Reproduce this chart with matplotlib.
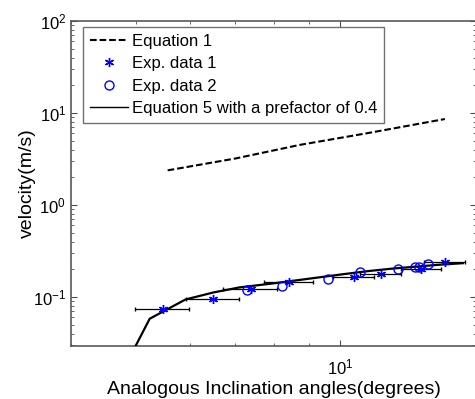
import matplotlib
matplotlib.use('Agg')
import matplotlib.pyplot as plt
from matplotlib.ticker import LogLocator, NullFormatter

plt.rcParams['font.family'] = ['Liberation Sans', 'DejaVu Sans']
plt.rcParams['axes.unicode_minus'] = False

# Equation 1 (dashed)
eq1_x = [5.56, 7.0, 8.72, 11.0, 14.3]
eq1_v = [2.38, 3.2, 4.5, 6.05, 8.6]

# Equation 5 with prefactor 0.4 (solid)
eq5_x = [4.90, 5.23, 5.91, 6.5, 7.1, 8.0, 9.0, 10.0, 11.0, 12.0, 13.0, 14.0, 15.2]
eq5_v = [0.023, 0.058, 0.094, 0.112, 0.127, 0.141, 0.158, 0.175, 0.191, 0.204, 0.214, 0.224, 0.233]

# experimental data 1 (asterisks, with horizontal error bars)
exp1_x = [5.47, 6.50, 7.39, 8.41, 10.5, 11.5, 13.2, 14.3]
exp1_v = [0.0741, 0.0944, 0.1227, 0.145, 0.165, 0.179, 0.203, 0.240]
exp1_xerr = [0.5, 0.59, 0.67, 0.7, 0.73, 0.8, 0.9, 1.0]

# experimental data 2 (circles)
exp2_x = [7.29, 8.20, 9.61, 10.7, 12.2, 12.9, 13.1, 13.5]
exp2_v = [0.120, 0.133, 0.157, 0.185, 0.203, 0.213, 0.210, 0.230]

fig = plt.figure(figsize=(4.75, 3.99), dpi=100)
ax = fig.add_axes([0.1495, 0.1328, 0.8526, 0.8145])

ax.plot(eq1_x, eq1_v, color='black', lw=1.5, dashes=(3.2, 1.4), label='Equation 1')
ax.errorbar(exp1_x, exp1_v, xerr=exp1_xerr, fmt='none', ecolor='black',
            elinewidth=0.9, capsize=1.2, zorder=2)
ax.plot(exp1_x, exp1_v, ls='none', marker=(6, 2, 0), ms=6.5, mew=1.0,
        color='blue', label='Exp. data 1', zorder=4)
ax.plot(exp2_x, exp2_v, ls='none', marker='o', ms=6.5, mew=1.0,
        mfc='none', mec='blue', label='Exp. data 2', zorder=4)
ax.plot(eq5_x, eq5_v, color='black', lw=1.6,
        label='Equation 5 with a prefactor of 0.4', zorder=3)

ax.set_xscale('log')
ax.set_yscale('log')
ax.set_xlim(4.0, 15.9)
ax.set_ylim(0.0293, 100)

ax.yaxis.set_major_locator(LogLocator(base=10, numticks=10))
ax.yaxis.set_minor_locator(LogLocator(base=10, subs=range(2, 10), numticks=10))
ax.xaxis.set_minor_formatter(NullFormatter())
ax.yaxis.set_minor_formatter(NullFormatter())

ax.tick_params(which='both', direction='in', top=True, right=True,
               labelsize=12, color='0.3')
ax.tick_params(which='major', length=4)
ax.tick_params(which='minor', length=2.5)
ax.tick_params(axis='x', which='both', pad=8)
for s in ax.spines.values():
    s.set_color('0.35')
    s.set_linewidth(1.2)

ax.set_xlabel('Analogous Inclination angles(degrees)', fontsize=14, labelpad=3)
ax.set_ylabel('velocity(m/s)', fontsize=14, labelpad=-2)

leg = ax.legend(loc='upper left', bbox_to_anchor=(0.03, 0.982), borderaxespad=0,
                fontsize=12, frameon=True, fancybox=False, handlelength=2.3,
                handletextpad=0.25, labelspacing=0.45, borderpad=0.4)
leg.get_frame().set_edgecolor('0.3')
leg.get_frame().set_linewidth(1.0)
leg.get_lines()[3].set_linewidth(1.0)

fig.savefig('out.png', dpi=100)
